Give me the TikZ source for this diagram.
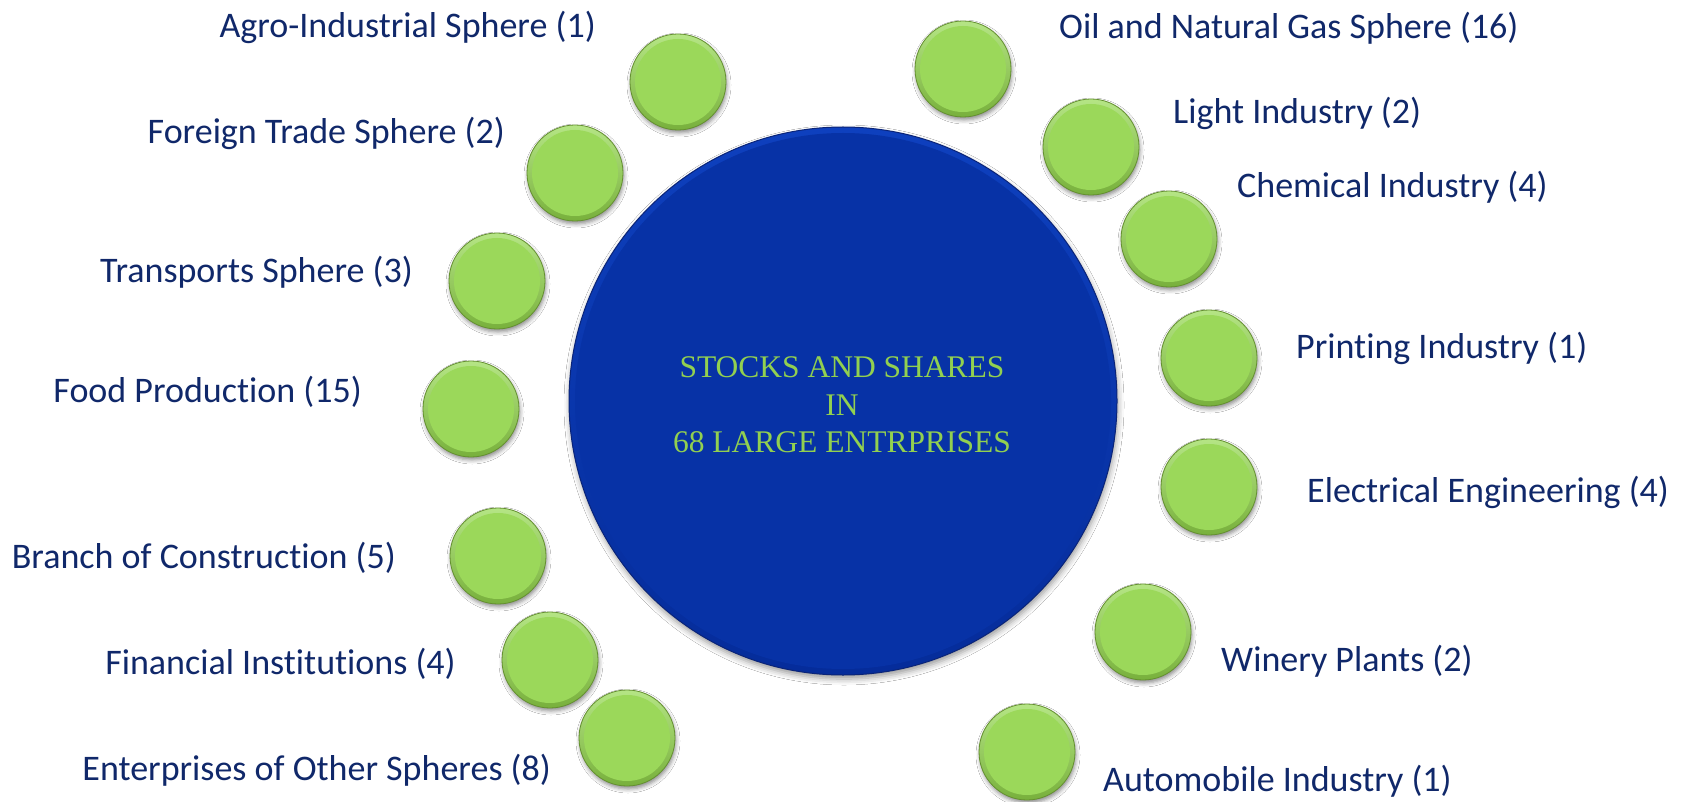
\documentclass[tikz,border=0pt]{standalone}
\usepackage{fontspec}
\setmainfont[Ligatures=NoCommon]{Carlito}
\newfontfamily\centerfont{Liberation Serif}
\usetikzlibrary{shadows.blur}
\definecolor{labblue}{HTML}{10286A}
\definecolor{gtop}{HTML}{B5E585}
\definecolor{gbot}{HTML}{78B03C}
\definecolor{gmid}{HTML}{9BD85A}
\definecolor{gedge}{HTML}{648F30}
\definecolor{btop}{HTML}{0E40BE}
\definecolor{bbot}{HTML}{052C9A}
\definecolor{bmid}{HTML}{0732A6}
\definecolor{bedge}{HTML}{0A2478}
\definecolor{ctext}{HTML}{92D050}
\tikzset{
  ball/.style={circle, minimum size=96pt, inner sep=0pt, top color=gtop, bottom color=gbot,
    draw=gedge, line width=0.8pt,
    blur shadow={shadow xshift=1pt, shadow yshift=-3pt, shadow blur radius=4pt, shadow opacity=45},
    path picture={\fill[gmid] (path picture bounding box.center) circle (43pt);}},
  hubstyle/.style={circle, minimum size=548pt, inner sep=0pt, top color=btop, bottom color=bbot,
    draw=bedge, line width=1pt,
    blur shadow={shadow xshift=1pt, shadow yshift=-4pt, shadow blur radius=6pt, shadow opacity=40},
    path picture={\fill[bmid] (path picture bounding box.center) circle (268pt);}},
  lab/.style={text=labblue, font=\fontsize{36}{43}\selectfont, inner sep=0pt},
}
\begin{document}
\begin{tikzpicture}[x=1pt, y=-1pt]
\useasboundingbox (0,0) rectangle (1686,802);
\fill[white] (0,0) rectangle (1686,802);
% hub
\node[hubstyle] (hub) at (843,401) {};
\node[text=ctext, align=center, inner sep=0pt, font=\centerfont\fontsize{31.5}{37.5}\selectfont] (htext) at (842,405) {STOCKS AND SHARES\\IN\\68 LARGE ENTRPRISES};
% balls left
\node[ball] (c1) at (678,82) {};
\node[ball] (c2) at (575,173) {};
\node[ball] (c3) at (497,281) {};
\node[ball] (c4) at (471,409) {};
\node[ball] (c5) at (498,556) {};
\node[ball] (c6) at (550,660) {};
\node[ball] (c7) at (627,738) {};
% balls right
\node[ball] (c8) at (963,69) {};
\node[ball] (c9) at (1091,147) {};
\node[ball] (c10) at (1169,239) {};
\node[ball] (c11) at (1209,358) {};
\node[ball] (c12) at (1209,487) {};
\node[ball] (c13) at (1143,632) {};
\node[ball] (c14) at (1027,752) {};
% labels left
\node[lab, anchor=base east] (l1) at (596,38) {Agro-Industrial Sphere (1)};
\node[lab, anchor=base east] (l2) at (505,144) {Foreign Trade Sphere (2)};
\node[lab, anchor=base east] (l3) at (413,283) {Transports Sphere (3)};
\node[lab, anchor=base east] (l4) at (362,402) {Food Production (15)};
\node[lab, anchor=base east] (l5) at (396,568) {Branch of Construction (5)};
\node[lab, anchor=base east] (l6) at (456,674) {Financial Institutions (4)};
\node[lab, anchor=base east] (l7) at (551,780) {Enterprises of Other Spheres (8)};
% labels right
\node[lab, anchor=base west] (l8) at (1059,39) {Oil and Natural Gas Sphere (16)};
\node[lab, anchor=base west] (l9) at (1173,124) {Light Industry (2)};
\node[lab, anchor=base west] (l10) at (1237,198) {Chemical Industry (4)};
\node[lab, anchor=base west] (l11) at (1296,358) {Printing Industry (1)};
\node[lab, anchor=base west] (l12) at (1307,502) {Electrical Engineering (4)};
\node[lab, anchor=base west] (l13) at (1221,671) {Winery Plants (2)};
\node[lab, anchor=base west] (l14) at (1103,791) {Automobile Industry (1)};
\end{tikzpicture}
\end{document}
